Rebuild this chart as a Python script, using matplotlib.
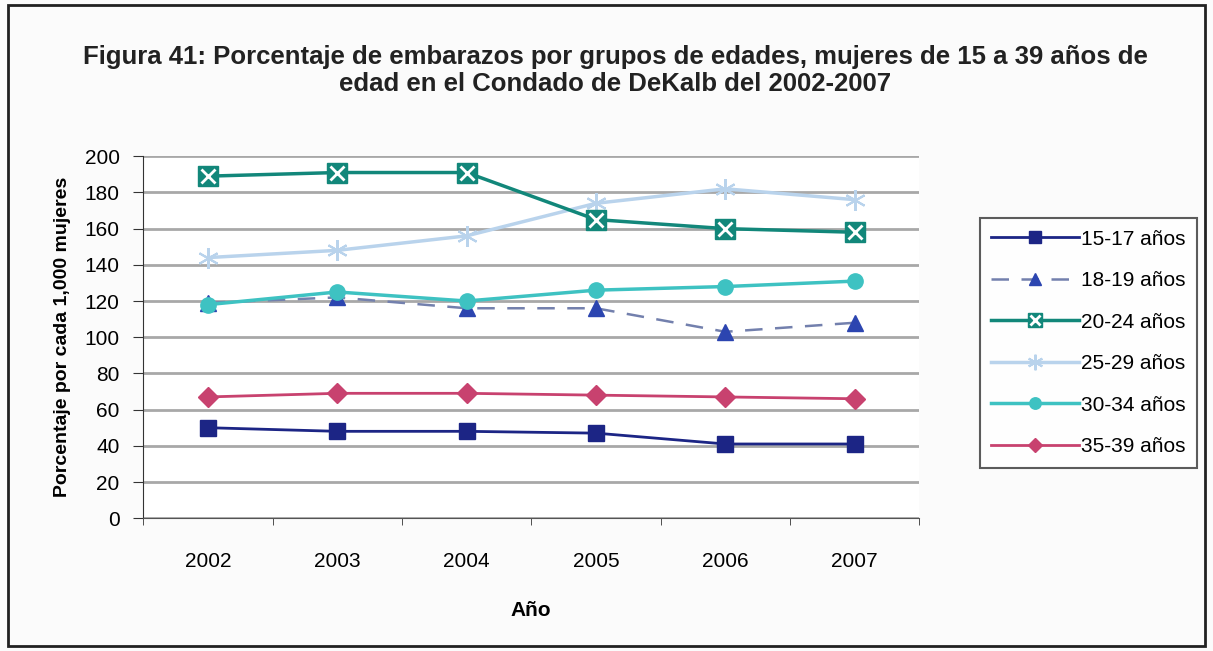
import matplotlib.pyplot as plt
import matplotlib.patches as patches
import numpy as np

years = ['2002', '2003', '2004', '2005', '2006', '2007']
g15_17 = [50, 48, 48, 47, 41, 41]
g18_19 = [119, 122, 116, 116, 103, 108]
g20_24 = [189, 191, 191, 165, 160, 158]
g25_29 = [144, 148, 156, 174, 182, 176]
g30_34 = [118, 125, 120, 126, 128, 131]
g35_39 = [67, 69, 69, 68, 67, 66]
labels = ['15-17 años', '18-19 años', '20-24 años', '25-29 años', '30-34 años', '35-39 años']

plt.rcParams['font.family'] = ['Liberation Sans', 'DejaVu Sans']

fig = plt.figure(figsize=(12.13, 6.51), dpi=100, facecolor='#fbfbfb')
ax = fig.add_axes([0.118, 0.204, 0.640, 0.556], facecolor='white')

x = np.arange(len(years))

# 18-19 first so the others sit on top
l2, = ax.plot(x, g18_19, color='#7380ad', lw=1.8, ls=(0, (7, 5)), zorder=3)
m2, = ax.plot(x, g18_19, ls='none', marker='^', ms=11, color='#2c45b0', zorder=4)
l1, = ax.plot(x, g15_17, color='#1c2585', lw=2, marker='s', ms=12, zorder=4)
l3, = ax.plot(x, g20_24, color='#12877a', lw=2.5, marker='s', ms=14, zorder=4)
m3, = ax.plot(x, g20_24, ls='none', marker='x', ms=10, mew=2, color='white', zorder=5)
l4, = ax.plot(x, g25_29, color='#b9d3ec', lw=2.5, marker=(6, 2, 0), ms=15, mew=1.5, zorder=3)
l5, = ax.plot(x, g30_34, color='#3ec2c2', lw=2.5, marker='o', ms=11, zorder=4)
l6, = ax.plot(x, g35_39, color='#c8426f', lw=2, marker='D', ms=10, zorder=4)

ax.set_xlim(-0.5, len(years) - 0.5)
ax.set_ylim(0, 200)
ax.set_yticks(np.arange(0, 201, 20))
ax.set_xticks(x)
ax.set_xticklabels(years)
ax.set_xticks(np.arange(-0.5, len(years), 1), minor=True)
ax.tick_params(axis='x', which='major', length=0, pad=24, labelsize=15)
ax.tick_params(axis='x', which='minor', length=5, direction='out', color='#333333')
ax.tick_params(axis='y', length=7, direction='out', labelsize=15, pad=10, color='#333333')
ax.yaxis.grid(True, color='#a8a8a8', lw=2)
ax.set_axisbelow(True)
for s in ['top', 'right']:
    ax.spines[s].set_visible(False)
ax.spines['left'].set_color('#333333')
ax.spines['bottom'].set_color('#555555')

ax.set_ylabel('Porcentaje por cada 1,000 mujeres', fontsize=14, fontweight='bold', labelpad=10)
ax.set_xlabel('Año', fontsize=15, fontweight='bold', labelpad=22)

fig.text(0.507, 0.892, 'Figura 41: Porcentaje de embarazos por grupos de edades, mujeres de 15 a 39 años de\nedad en el Condado de DeKalb del 2002-2007',
         ha='center', va='center', fontsize=18.5, fontweight='bold', color='#222222', linespacing=1.15)

handles = [l1, (l2, m2), (l3, m3), l4, l5, l6]
leg = fig.legend(handles, labels, loc='upper left', bbox_to_anchor=(0.799, 0.681),
                 fontsize=15, frameon=True, fancybox=False, edgecolor='#333333',
                 handlelength=4.2, handletextpad=0.1, labelspacing=1.08, borderpad=0.55,
                 markerscale=0.75)
leg.get_frame().set_linewidth(1.5)

# outer border
fig.patches.append(patches.Rectangle((0.007, 0.008), 0.986, 0.985, transform=fig.transFigure,
                                     fill=False, edgecolor='#222222', lw=2))

fig.savefig('out.png', dpi=100, facecolor=fig.get_facecolor())
